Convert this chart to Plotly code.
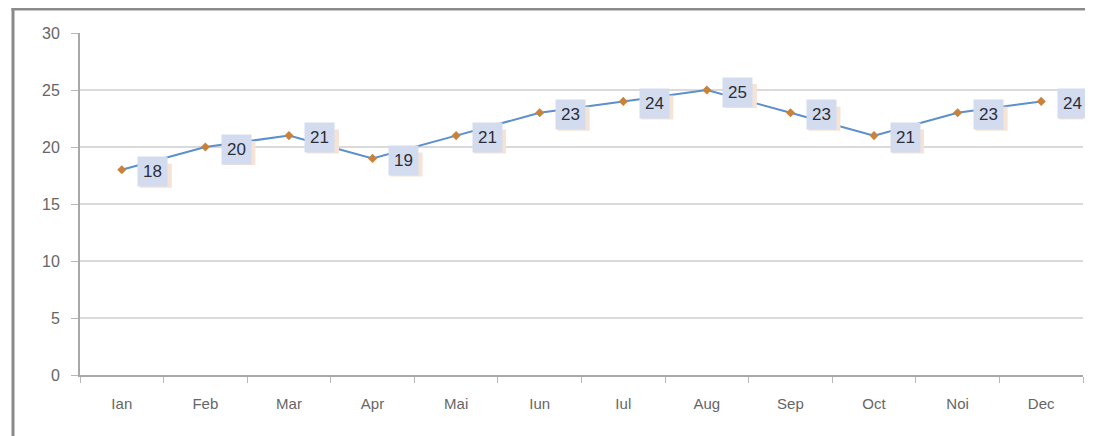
import plotly.graph_objects as go

months = ["Ian", "Feb", "Mar", "Apr", "Mai", "Iun", "Iul", "Aug", "Sep", "Oct", "Noi", "Dec"]
values = [18, 20, 21, 19, 21, 23, 24, 25, 23, 21, 23, 24]
y_ticks = [0, 5, 10, 15, 20, 25, 30]

# page body has an 8px margin; figure coordinates = screen - 8
OFF = 8
W, H = 1093 - OFF, 436 - OFF
L, R, T, B = 80 - OFF, 1083 - OFF, 33 - OFF, 375 - OFF

fig = go.Figure()
fig.add_trace(go.Scatter(
    x=months, y=values, mode="lines+markers",
    line=dict(color="#5b8fcf", width=2),
    marker=dict(symbol="diamond", size=7, color="#c8823a"),
    hoverinfo="skip", showlegend=False,
))

annotations = []
shapes = []
for m, v in zip(months, values):
    # soft warm shadow behind the label box
    shapes.append(dict(
        type="rect", xref="x", yref="y", xsizemode="pixel", ysizemode="pixel",
        xanchor=m, yanchor=v, x0=18, x1=50, y0=-18, y1=6,
        fillcolor="#f5e3d6", line=dict(width=0), layer="above",
    ))
    annotations.append(dict(
        x=m, y=v, xref="x", yref="y", text=str(v), showarrow=False,
        xshift=31, yshift=-2, bgcolor="#d3dcee", borderpad=5,
        font=dict(family="Liberation Sans, Arial", size=17, color="#2a2e3a"),
    ))

def px(xp):
    return (xp - L) / (R - L)

def py(yp):
    return (B - yp) / (B - T)

shapes += [
    dict(type="line", xref="paper", yref="paper", x0=px(13 - OFF), x1=px(13 - OFF),
         y0=py(9 - OFF - 1.5), y1=py(H + 5), line=dict(color="#8a8a8a", width=3)),
    dict(type="line", xref="paper", yref="paper", x0=px(11.5 - OFF), x1=px(W + 5),
         y0=py(9 - OFF), y1=py(9 - OFF), line=dict(color="#8a8a8a", width=3)),
]

fig.update_layout(
    width=W, height=H,
    margin=dict(l=L, r=W - R, t=T, b=H - B),
    paper_bgcolor="white", plot_bgcolor="white",
    annotations=annotations, shapes=shapes,
    font=dict(family="Liberation Sans, Arial", size=15, color="#666666"),
)
fig.update_xaxes(
    type="category", categoryorder="array", categoryarray=months,
    range=[-0.5, 11.5],
    showline=True, linecolor="#a8a8a8", linewidth=2,
    ticks="outside", tickson="boundaries", ticklen=6, tickcolor="#b8b8b8",
    ticklabelstandoff=14,
    showgrid=False, tickfont=dict(size=15, color="#666666"),
    fixedrange=True,
)
fig.update_yaxes(
    range=[0, 30], tickvals=y_ticks,
    showline=True, linecolor="#a8a8a8", linewidth=2,
    ticks="outside", ticklen=7, tickcolor="#b8b8b8",
    ticklabelstandoff=8,
    showgrid=True, gridcolor="#dadada", gridwidth=2,
    zeroline=False, tickfont=dict(size=16, color="#666666"),
    fixedrange=True,
)

fig.write_html("out.html")
